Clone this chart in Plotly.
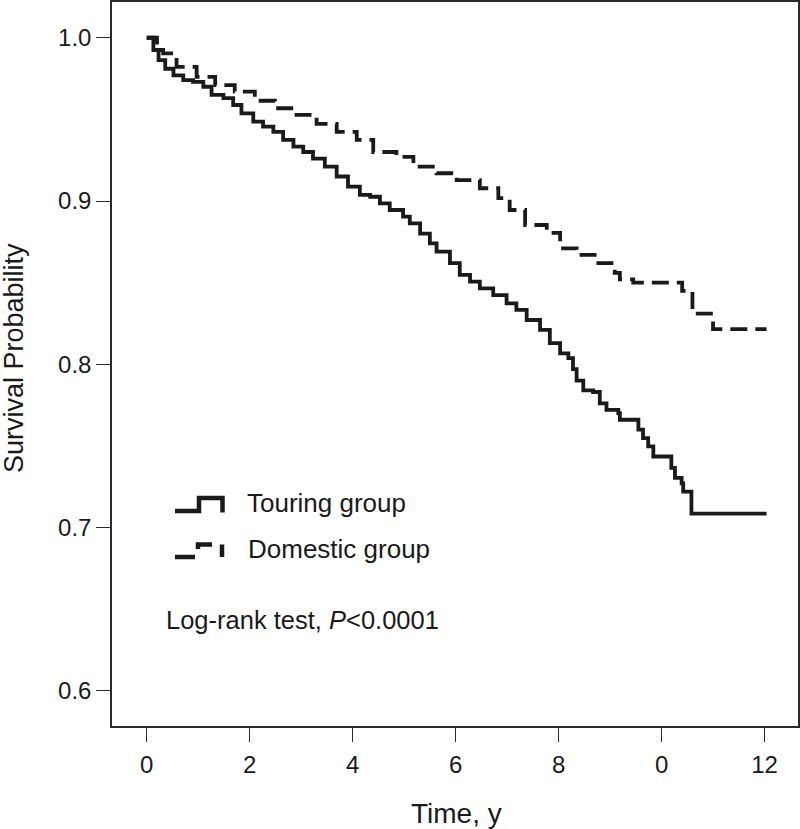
import plotly.graph_objects as go

# ---------------- data ----------------
touring_t = [0, 0.13, 0.23, 0.36, 0.52, 0.71, 0.9, 1.1, 1.26, 1.49, 1.68, 1.84, 2.07, 2.26,
             2.46, 2.65, 2.85, 3.04, 3.23, 3.46, 3.69, 3.91, 4.14, 4.34, 4.53, 4.72, 4.98,
             5.11, 5.31, 5.5, 5.63, 5.89, 6.08, 6.28, 6.47, 6.73, 6.99, 7.18, 7.38, 7.64,
             7.83, 8.03, 8.19, 8.28, 8.35, 8.48, 8.67, 8.8, 8.93, 9.16, 9.19, 9.55, 9.64,
             9.74, 9.84, 10.19, 10.26, 10.39, 10.42, 10.58, 12.04]
touring_s = [1.0, 0.9925, 0.9863, 0.981, 0.977, 0.974, 0.973, 0.970, 0.965, 0.963, 0.9588,
             0.9537, 0.9486, 0.9455, 0.9424, 0.9374, 0.9333, 0.930, 0.926, 0.921, 0.915,
             0.9088, 0.9037, 0.9026, 0.8986, 0.8945, 0.8904, 0.8863, 0.880, 0.874, 0.869,
             0.862, 0.8547, 0.8506, 0.8465, 0.8424, 0.8373, 0.8333, 0.8271, 0.821, 0.8129,
             0.8067, 0.8037, 0.797, 0.790, 0.784, 0.783, 0.776, 0.772, 0.770, 0.766, 0.760,
             0.7547, 0.7497, 0.7435, 0.7365, 0.7304, 0.727, 0.722, 0.7085, 0.7085]

domestic_t = [0, 0.2, 0.32, 0.58, 0.97, 1.33, 1.71, 2.1, 2.49, 2.91, 3.3, 3.69, 4.08, 4.4,
              4.85, 5.18, 5.63, 6.02, 6.47, 6.83, 7.05, 7.35, 7.77, 8.03, 8.35, 8.7, 9.09,
              9.19, 9.45, 10.4, 10.6, 11.0, 12.04]
domestic_s = [1.0, 0.9925, 0.9904, 0.9822, 0.976, 0.971, 0.967, 0.9614, 0.9568, 0.9527,
              0.9472, 0.9424, 0.9374, 0.930, 0.927, 0.921, 0.917, 0.9128, 0.9078, 0.9017,
              0.8945, 0.8853, 0.8805, 0.871, 0.867, 0.862, 0.856, 0.852, 0.850, 0.8449,
              0.831, 0.8215, 0.8215]

x_tickvals = [0, 2, 4, 6, 8, 10, 12]
x_ticktext = ["0", "2", "4", "6", "8", "0", "12"]
y_tickvals = [0.6, 0.7, 0.8, 0.9, 1.0]
y_ticktext = ["0.6", "0.7", "0.8", "0.9", "1.0"]

group_names = ["Touring group", "Domestic group"]
test_text = "Log-rank test, <i>P</i>&lt;0.0001"
x_title = "Time, y"
y_title = "Survival Probability"

# ---------------- styling ----------------
FONT = "Liberation Sans, Arial, Helvetica, sans-serif"
INK = "#1a1a1a"
AXC = "#2a2a2a"
W, H = 800, 829
ML, MR, MT, MB = 112, 2, 2, 103


def P(px, py):
    """pixel -> paper coordinates"""
    return (px - ML) / (W - ML - MR), (H - MB - py) / (H - MT - MB)


fig = go.Figure()
fig.add_trace(go.Scatter(x=touring_t, y=touring_s, mode="lines", line_shape="hv",
                         line=dict(color=INK, width=3.8), name=group_names[0],
                         showlegend=False))
fig.add_trace(go.Scatter(x=domestic_t, y=domestic_s, mode="lines", line_shape="hv",
                         line=dict(color=INK, width=3.8, dash="17px,8px"),
                         name=group_names[1], showlegend=False))

# legend symbols (drawn as shapes)
shapes = []


def path(points, dash="solid", width=4.5):
    pts = [P(*p) for p in points]
    d = "M " + " L ".join(f"{x:.5f},{y:.5f}" for x, y in pts)
    shapes.append(dict(type="path", xref="paper", yref="paper", path=d,
                       line=dict(color=INK, width=width, dash=dash)))


path([(175, 511), (199, 511), (199, 498), (222.5, 498), (222.5, 512.5)])
path([(175, 557), (195, 557)])
path([(198, 549), (198, 544.5), (212, 544.5)])
path([(222, 544.5), (222, 557)])

annotations = []
for txt, (px, py), fs in [(group_names[0], (245, 503), 26),
                          (group_names[1], (246, 548.7), 26),
                          (test_text, (164, 620), 25.5)]:
    x, y = P(px, py)
    annotations.append(dict(text=txt, x=x, y=y, xref="paper", yref="paper",
                            xanchor="left", yanchor="middle", showarrow=False,
                            font=dict(family=FONT, size=fs, color=INK)))

# axis titles
x, y = P(456, 813)
annotations.append(dict(text=x_title, x=x, y=y, xref="paper", yref="paper",
                        xanchor="center", yanchor="middle", showarrow=False,
                        font=dict(family=FONT, size=28, color=INK)))
x, y = P(14, 358)
annotations.append(dict(text=y_title, x=x, y=y, xref="paper", yref="paper",
                        xanchor="center", yanchor="middle", showarrow=False,
                        textangle=-90, font=dict(family=FONT, size=27, color=INK)))

fig.update_layout(
    width=W, height=H,
    margin=dict(l=ML, r=MR, t=MT, b=MB, pad=0),
    paper_bgcolor="white", plot_bgcolor="white",
    font=dict(family=FONT, color=INK),
    shapes=shapes, annotations=annotations,
    xaxis=dict(range=[-0.674, 12.65], tickvals=x_tickvals, ticktext=x_ticktext,
               ticks="outside", ticklen=14, tickwidth=1.4, tickcolor=AXC,
               showline=True, mirror=True, linecolor=AXC, linewidth=1.5,
               showgrid=False, zeroline=False, ticklabelstandoff=2, automargin=False,
               tickfont=dict(family=FONT, size=24, color=INK)),
    yaxis=dict(range=[0.5784, 1.0219], tickvals=y_tickvals, ticktext=y_ticktext,
               ticks="outside", ticklen=14, tickwidth=1.4, tickcolor=AXC,
               showline=True, mirror=True, linecolor=AXC, linewidth=1.5,
               showgrid=False, zeroline=False, ticklabelstandoff=0, automargin=False,
               tickfont=dict(family=FONT, size=24, color=INK)),
)

fig.write_html("out.html",
               config={"displayModeBar": False},
               post_script="document.body.style.margin='0px';"
                           "document.body.style.overflow='hidden';")
